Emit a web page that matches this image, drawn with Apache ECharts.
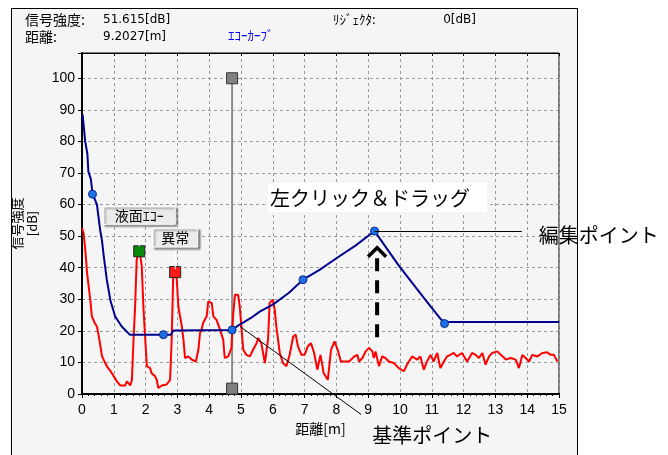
<!DOCTYPE html>
<html><head><meta charset="utf-8">
<script src="https://cdn.jsdelivr.net/npm/echarts@6/dist/echarts.min.js"></script>
<style>
html,body{margin:0;padding:0;background:#fff;width:668px;height:455px;overflow:hidden;}
#panel{position:absolute;left:11px;top:8px;width:567px;height:460px;background:#f5f5f5;border:1px solid #000;box-sizing:border-box;}
#c{position:absolute;left:0;top:0;width:668px;height:455px;}
</style>
</head><body><div id="panel"></div><div id="c"></div>
<script>
// ---- data ----
const redX = [0,0.05,0.1,0.16,0.26,0.31,0.4,0.47,0.55,0.63,0.78,0.94,1.1,1.2,1.36,1.41,1.52,1.57,1.62,1.67,1.72,1.78,1.83,1.88,1.93,1.99,2.04,2.14,2.19,2.3,2.35,2.4,2.51,2.66,2.77,2.82,2.87,2.93,2.98,3.03,3.14,3.19,3.24,3.34,3.45,3.5,3.58,3.66,3.71,3.76,3.81,3.92,3.97,4.08,4.13,4.23,4.34,4.44,4.49,4.6,4.7,4.75,4.81,4.91,4.96,5.02,5.07,5.17,5.28,5.38,5.49,5.54,5.64,5.75,5.85,5.9,6.0,6.06,6.11,6.22,6.32,6.43,6.53,6.64,6.72,6.79,6.9,7.0,7.1,7.2,7.3,7.4,7.5,7.6,7.73,7.78,7.83,7.94,8.04,8.14,8.4,8.56,8.66,8.71,8.82,8.92,9.03,9.13,9.18,9.23,9.34,9.44,9.54,9.65,9.8,9.96,10.12,10.22,10.38,10.54,10.64,10.75,10.85,10.96,11.06,11.17,11.27,11.38,11.48,11.58,11.69,11.79,11.95,12.11,12.27,12.38,12.48,12.59,12.69,12.8,12.9,13.06,13.17,13.33,13.48,13.64,13.74,13.85,13.95,14.06,14.16,14.32,14.48,14.63,14.74,14.84,14.95];
const redY = [52.5,51,46,38.3,29.9,24.6,22.5,21.4,17,11.9,8.8,6.6,4,2.7,2.7,4,2.7,4.5,17.2,27.7,42.5,45,44.1,40.4,27.7,17.2,8.8,8.2,6.6,5.6,4.5,1.9,2.7,3,4.5,17.2,38.3,39.3,36.2,27.7,21.4,17.2,11.4,11.9,10.9,11.4,10.3,14,19.3,20.4,22.5,24.6,29.3,28.8,24.6,23.5,20.4,17.2,11.4,11.9,14.6,24.6,31.4,31.4,27.7,20.4,14,12.4,11.9,14,16.1,17.7,16.1,9.8,17.2,28.8,29.9,26.7,21.4,13,9.8,8.8,12.4,18.2,18.8,15.1,12.4,12.4,15.1,16.1,13,7.7,12.4,6.6,4.5,5,14,16.7,14,10.3,10.3,11.9,12.4,10.3,11.4,13.5,14.6,13.5,11.4,13.5,8.8,11.9,11.4,10.3,9.8,8.2,7.2,9.3,11.9,10.9,11.9,7.7,10.3,12.4,10.3,13,8.2,10.3,11.9,12.4,13,11.9,13,10.3,13,12.4,11.4,13,9.3,11.9,13,13.5,12.4,10.9,11.4,10.9,8.2,12.4,11.4,10.3,12.4,11.9,13,13.2,12.4,12.4,10.3];
const blueX = [0.02,0.1,0.17,0.2,0.28,0.33,0.47,0.57,0.63,0.68,0.78,0.89,1.04,1.25,1.5,2.8,2.87,4.72,4.96,5.3,5.59,6.0,6.5,6.95,7.47,8.0,8.6,9.2,9.98,10.8,11.3,11.45,15];
const blueY = [88.5,80,76,70.5,68,63.5,60,52,48.5,44,36.2,29.8,24.6,21.4,18.8,18.8,20.1,20.3,22,24,26.1,28.3,32,36.2,39.3,43,47,51.6,40.4,29.8,23.5,22.8,22.8];
const nodeX = [0.33,2.56,4.72,6.95,9.2,11.4];
const nodeY = [63.3,18.8,20.3,36.2,51.6,22.3];
const echoMark = [1.8,45.2];      // 液面ｴｺｰ
const abnormalMark = [2.93,38.6]; // 異常
const cursorX = 4.72, cursorTop = 100, cursorBottom = 1.7;
const arrowX = 9.28, arrowTop = 46.3, arrowBottom = 18;
const basePointer = [[4.97,21.4],[8.78,-6.5]];
const editPointer = [[9.2,51.6],[13.83,51.6]];
const xMin = 0, xMax = 15, xStep = 1;
const yMin = 0, yMax = 108, yStep = 10, yLabelMax = 100;

const FONT = '"Noto Sans CJK JP", "Noto Sans", sans-serif';
const zip = (a,b)=>a.map((v,i)=>[v,b[i]]);

const chart = echarts.init(document.getElementById('c'), null, {renderer:'canvas'});
const dash = {type:[3,3], color:'#9a9a9a', width:1};
chart.setOption({
  animation:false,
  backgroundColor:'transparent',
  grid:{left:82, right:109, top:53, bottom:61, show:true, borderColor:'#000', borderWidth:1,
        backgroundColor:'#f5f5f5', containLabel:false, outerBoundsMode:'none'},
  xAxis:[{
    type:'value', min:xMin, max:xMax, interval:xStep,
    name:'距離[m]', nameLocation:'middle', nameGap:26,
    nameTextStyle:{fontFamily:FONT, fontSize:14, color:'#000'},
    axisLine:{show:true, lineStyle:{color:'#000', width:2}},
    axisTick:{show:true, length:4, lineStyle:{color:'#000'}},
    minorTick:{show:true, splitNumber:5, length:2, lineStyle:{color:'#000'}},
    axisLabel:{fontFamily:'Liberation Sans', fontSize:14, color:'#000', margin:9},
    splitLine:{show:true, lineStyle:dash}
  },{
    type:'value', min:xMin, max:xMax, interval:xStep, position:'top',
    axisLine:{show:true, lineStyle:{color:'#000', width:1}},
    axisTick:{show:true, inside:true, length:3, lineStyle:{color:'#000'}},
    axisLabel:{show:false}, splitLine:{show:false}
  }],
  yAxis:{
    type:'value', min:yMin, max:yMax, interval:yStep,
    name:'信号強度\n[dB]', nameLocation:'middle', nameGap:42, nameRotate:90,
    nameTextStyle:{fontFamily:FONT, fontSize:13, color:'#000', lineHeight:15},
    axisLine:{show:true, lineStyle:{color:'#000', width:2}},
    axisTick:{show:true, length:4, lineStyle:{color:'#000'}},
    axisLabel:{fontFamily:'Liberation Sans', fontSize:14, color:'#000', margin:7,
      formatter:v=> (v%yStep===0 && v<=yLabelMax) ? String(v) : ''},
    splitLine:{show:true, lineStyle:dash}
  },
  series:[
    {type:'line', name:'cursor', data:[[cursorX,cursorTop],[cursorX,cursorBottom]],
     symbol:'rect', symbolSize:11, showSymbol:true, z:1,
     lineStyle:{color:'#8c8c8c', width:2},
     itemStyle:{color:'#808080', borderColor:'#333', borderWidth:1}},
    {type:'line', name:'signal', data:zip(redX,redY), showSymbol:false, z:2,
     lineStyle:{color:'#ff0000', width:2}},
    {type:'line', name:'echo', data:zip(blueX,blueY), showSymbol:false, z:3,
     lineStyle:{color:'#00008f', width:2}},
    {type:'scatter', name:'nodes', data:zip(nodeX,nodeY), symbol:'circle', symbolSize:8, z:4,
     itemStyle:{color:'#1f6fe6', borderColor:'#0a2a8a', borderWidth:1, opacity:1}},
    {type:'scatter', name:'echoMark', data:[echoMark], symbol:'rect', symbolSize:11, z:4,
     itemStyle:{color:'#0a8a0a', borderColor:'#222', borderWidth:1, opacity:1}},
    {type:'scatter', name:'abnormalMark', data:[abnormalMark], symbol:'rect', symbolSize:11, z:4,
     itemStyle:{color:'#ff1a1a', borderColor:'#222', borderWidth:1, opacity:1}}
  ]
});

const P = p => chart.convertToPixel({gridIndex:0}, p);
const txt = (x,y,t,opt={}) => ({type:'text', x, y, silent:true, z:50,
  style:Object.assign({text:t, fontFamily:FONT, fontSize:13, fill:'#000', verticalAlign:'middle'}, opt)});

const eM = P(echoMark), aM = P(abnormalMark);
const aTop = P([arrowX, arrowTop]), aBot = P([arrowX, arrowBottom]);
const b0 = P(basePointer[0]), b1 = P(basePointer[1]);
const e0 = P(editPointer[0]), e1 = P(editPointer[1]);
const ey = Math.round(e0[1]) + 0.5;

function tag(cx, bottom, w, h, t){
  return [
    {type:'line', silent:true, z:40, shape:{x1:cx,y1:bottom,x2:cx,y2:bottom+22}, style:{stroke:'#ffffff', lineWidth:1}},
    {type:'rect', silent:true, z:41, shape:{x:cx-w/2, y:bottom-h, width:w, height:h},
     style:{fill:'#ebebeb', stroke:'#ffffff', lineWidth:1, shadowBlur:2, shadowOffsetX:2, shadowOffsetY:2, shadowColor:'rgba(0,0,0,0.45)'}},
    txt(cx, bottom-h/2, t, {align:'center', fontSize:14, z:42})
  ];
}

const graphics = [
  txt(25,20,'信号強度:',{fontSize:14}), txt(103,20,'51.615[dB]',{fontFamily:'DejaVu Sans', fontSize:12}),
  txt(25,37,'距離:',{fontSize:14}), txt(103,37,'9.2027[m]',{fontFamily:'DejaVu Sans', fontSize:12}),
  txt(228,35,'ｴｺｰｶｰﾌﾞ',{fill:'#0000ff', fontSize:13}),
  txt(333,19,'ﾘｼﾞｪｸﾀ:',{fontSize:13}),
  txt(476,20,'0[dB]',{align:'right', fontFamily:'DejaVu Sans', fontSize:12}),
  ...tag(eM[0], eM[1]-27, 72, 18, '液面ｴｺｰ'),
  ...tag(aM[0], aM[1]-25, 45, 19, '異常'),
  {type:'rect', silent:true, z:45, shape:{x:268, y:183, width:219, height:29}, style:{fill:'#ffffff'}},
  txt(270,198,'左クリック＆ドラッグ',{fontSize:20, z:46}),
  {type:'line', silent:true, z:45, shape:{x1:e0[0], y1:ey, x2:e1[0], y2:ey}, style:{stroke:'#000', lineWidth:1}},
  txt(e1[0]+17, e1[1]+4, '編集ポイント', {fontSize:20, z:46}),
  {type:'line', silent:true, z:45, shape:{x1:b0[0], y1:b0[1], x2:b1[0], y2:b1[1]}, style:{stroke:'#000', lineWidth:1}},
  txt(b1[0]+11, b1[1]+21, '基準ポイント', {fontSize:20, z:46}),
  {type:'line', silent:true, z:45, shape:{x1:aBot[0], y1:aBot[1], x2:aTop[0], y2:aTop[1]+8},
   style:{stroke:'#000', lineWidth:4, lineDash:[13,9]}},
  {type:'polyline', silent:true, z:45, shape:{points:[[aTop[0]-9,aTop[1]+9],[aTop[0],aTop[1]],[aTop[0]+9,aTop[1]+9]]},
   style:{stroke:'#000', lineWidth:3.5, fill:null}}
];
chart.setOption({graphic:graphics});
</script>
</body></html>
